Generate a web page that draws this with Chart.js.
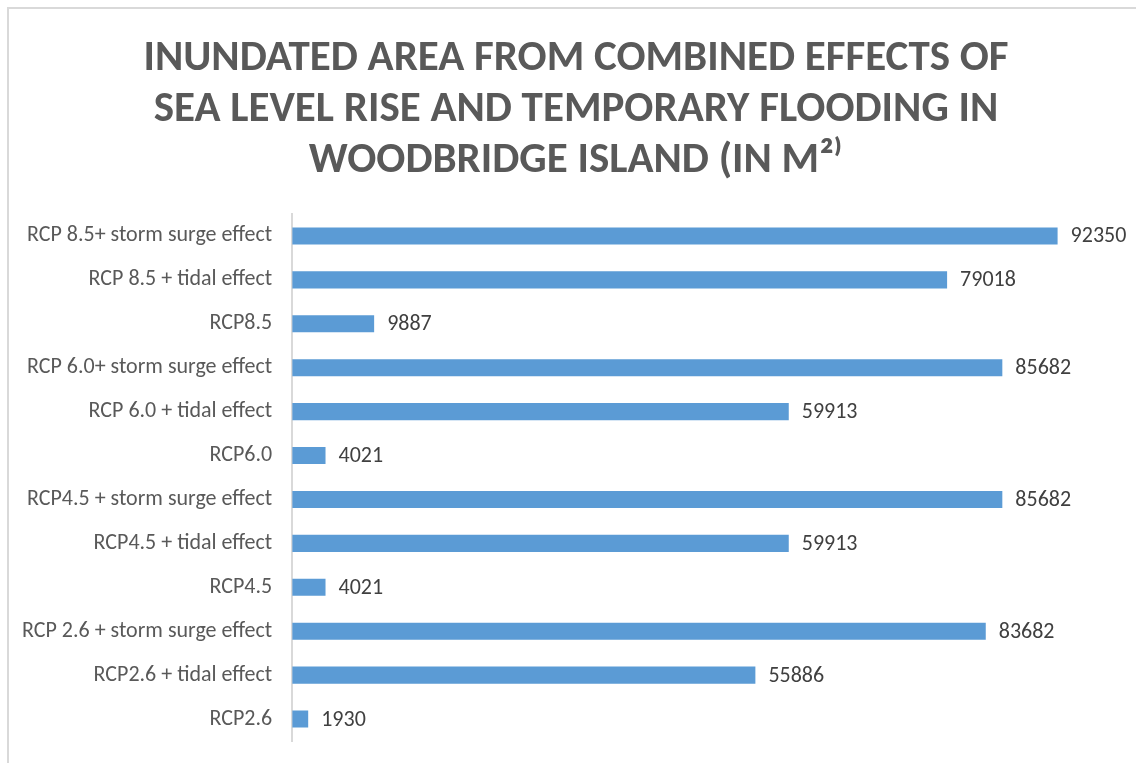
<!DOCTYPE html>
<html>
<head>
<meta charset="utf-8">
<script src="https://cdn.jsdelivr.net/npm/chart.js@4/dist/chart.umd.min.js"></script>
<style>
    body { margin: 0; background: #fff; }
    #wrap { position: relative; width: 1136px; height: 763px; }
    #frame { position: absolute; left: 7px; top: 7px; right: 0; bottom: 0;
             border-top: 2px solid #d9d9d9; border-left: 2px solid #d9d9d9; }
    canvas { position: absolute; left: 0; top: 0; }
</style>
</head>
<body>
<div id="wrap">
    <div id="frame"></div>
    <canvas id="myChart" width="1136" height="763"></canvas>
</div>
<script>
var scenarios = [
    "RCP 8.5+ storm surge effect",
    "RCP 8.5 + tidal effect",
    "RCP8.5",
    "RCP 6.0+ storm surge effect",
    "RCP 6.0 + tidal effect",
    "RCP6.0",
    "RCP4.5 + storm surge effect",
    "RCP4.5 + tidal effect",
    "RCP4.5",
    "RCP 2.6 + storm surge effect",
    "RCP2.6 + tidal effect",
    "RCP2.6"
];
var inundatedArea = [92350, 79018, 9887, 85682, 59913, 4021, 85682, 59913, 4021, 83682, 55886, 1930];
var titleLines = [
    "INUNDATED AREA FROM COMBINED EFFECTS OF",
    "SEA LEVEL RISE AND TEMPORARY FLOODING IN",
    "WOODBRIDGE ISLAND (IN M\u00b2\u207e"
];

var baseFont = "Carlito, Calibri, 'Liberation Sans Narrow', 'Open Sans', sans-serif";

// title is centred on the framed panel, not the chart box, so it is drawn by hand
var panelTitle = {
    id: 'panelTitle',
    afterDraw: function(chart){
        var ctx = chart.ctx;
        ctx.save();
        ctx.font = "bold 43px " + baseFont;
        ctx.fillStyle = "#595959";
        ctx.textAlign = "center";
        ctx.textBaseline = "alphabetic";
        for(var i=0;i<titleLines.length;i++){
            ctx.fillText(titleLines[i], 576, 70 + i*51);
        }
        ctx.restore();
    }
};

// writes each bar's value just past its end
var valueLabels = {
    id: 'valueLabels',
    afterDatasetsDraw: function(chart){
        var ctx = chart.ctx;
        var meta = chart.getDatasetMeta(0);
        ctx.save();
        ctx.font = "22px " + baseFont;
        ctx.fillStyle = "#404040";
        ctx.textAlign = "left";
        ctx.textBaseline = "middle";
        for(var i=0;i<meta.data.length;i++){
            var bar = meta.data[i];
            ctx.fillText(String(chart.data.datasets[0].data[i]), bar.x + 13, bar.y + 1);
        }
        ctx.restore();
    }
};

var ctx = document.getElementById("myChart").getContext("2d");
new Chart(ctx, {
    type: 'bar',
    data: {
        labels: scenarios,
        datasets: [{
            data: inundatedArea,
            backgroundColor: "#5b9bd5",
            borderWidth: 0,
            barPercentage: 0.39,
            categoryPercentage: 1.0
        }]
    },
    options: {
        indexAxis: 'y',
        responsive: false,
        animation: false,
        layout: {
            padding: { top: 214, right: 15, bottom: 22, left: 2 }
        },
        plugins: {
            legend: { display: false },
            tooltip: { enabled: false },
            title: { display: false }
        },
        scales: {
            x: {
                display: false,
                min: 0,
                max: 100000
            },
            y: {
                // tick padding is horizontal only here
                afterFit: function(scale){
                    scale.paddingTop = 0;
                    scale.paddingBottom = 0;
                },
                grid: { display: false, drawTicks: false },
                border: { display: true, color: "#d9d9d9", width: 2 },
                ticks: {
                    color: "#595959",
                    padding: 20,
                    font: { family: baseFont, size: 22 }
                }
            }
        }
    },
    plugins: [valueLabels, panelTitle]
});
</script>
</body>
</html>
